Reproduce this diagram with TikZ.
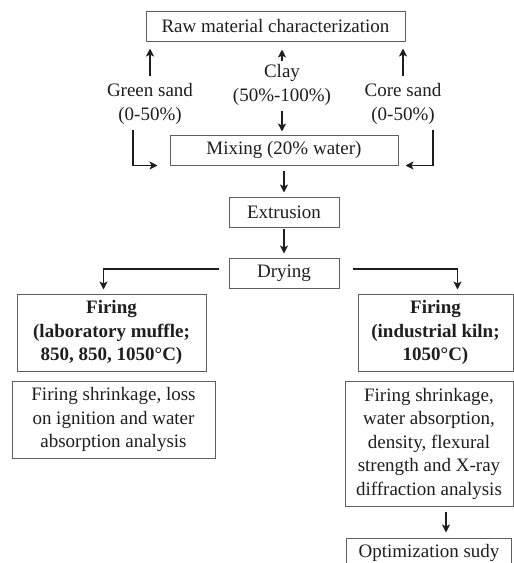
\documentclass[tikz,border=0pt]{standalone}
\usepackage{fontspec}
\setmainfont{Liberation Serif}
\usepackage{tikz}
\usetikzlibrary{arrows.meta,positioning,calc}
\tikzset{
  >=Stealth,
  every node/.append style={font=\fontsize{19}{23.5}\selectfont},
}

\begin{document}
\begin{tikzpicture}[
    x=1pt, y=-1pt,
    node distance=31pt and 12pt,
    stage/.style={
        rectangle,
        draw=framegray,
        line width=1pt,
        minimum height=30pt,
        align=center,
        inner sep=3pt,
        text=inkgray
    },
    feed/.style={
        align=center,
        inner sep=1pt,
        text=inkgray
    },
    arrow/.style={
        -{Stealth[length=8pt,width=8pt,inset=2pt]},
        line width=1.5pt,
        draw=inkgray
    }
]
% Color definitions
\definecolor{inkgray}{RGB}{30,30,30}
\definecolor{framegray}{RGB}{95,95,95}

\useasboundingbox (0,0) rectangle (514,563);

% Raw materials
\node[stage, minimum width=259pt] (raw) at (275.5,26) {Raw material characterization};
\node[feed] (green) at (150,104) {Green sand\\(0-50\%)};
\node[feed] (clay) at (282,85) {Clay\\(50\%-100\%)};
\node[feed] (core) at (403,104) {Core sand\\(0-50\%)};

% Processing stages
\node[stage, minimum width=228pt] (mix) at (284,150) {Mixing (20\% water)};
\node[stage, minimum width=110pt, below=of mix] (ext) {Extrusion};
\node[stage, minimum width=110pt, below=30pt of ext] (dry) {Drying};

% Firing branches
\node[stage, font=\fontsize{19}{23.5}\selectfont\bfseries, minimum width=189pt, minimum height=77pt] (fireL) at (111.5,332.5) {Firing\\(laboratory muffle;\\850, 850, 1050°C)};
\node[stage, font=\fontsize{19}{23.5}\selectfont\bfseries, minimum width=155pt, minimum height=77pt] (fireR) at (435.5,332.5) {Firing\\(industrial kiln;\\1050°C)};
\node[stage, minimum width=203pt, minimum height=77pt, below=9pt of fireL, xshift=2pt] (anaL) {Firing shrinkage, loss\\on ignition and water\\absorption analysis};
\node[stage, minimum width=168pt, minimum height=125pt, below=9pt of fireR, xshift=-6.5pt] (anaR) {Firing shrinkage,\\water absorption,\\density, flexural\\strength and X-ray\\diffraction analysis};
\node[stage, minimum width=165pt, below=31pt of anaR] (opt) {Optimization sudy};

% Flow arrows
\draw[arrow, shorten <=6pt, shorten >=7pt] (green.north) -- (green.north |- raw.south);
\draw[arrow, shorten <=2pt, shorten >=8pt] (clay.north) -- (clay.north |- raw.south);
\draw[arrow, shorten <=6pt, shorten >=7pt] (core.north) -- (core.north |- raw.south);
\draw[arrow, shorten <=4pt, shorten >=3pt] (clay.south) -- (clay.south |- mix.north);
\draw[arrow] ([xshift=-17pt,yshift=-4pt]green.south) |- ([xshift=-12pt]mix.south west);
\draw[arrow] ([xshift=30pt,yshift=-4pt]core.south) |- ([xshift=7pt]mix.south east);
\draw[arrow, shorten <=5pt, shorten >=4pt] (mix) -- (ext);
\draw[arrow, shorten <=1pt, shorten >=4pt] (ext) -- (dry);
\draw[arrow, shorten >=4pt] ([shift={(-10pt,4pt)}]dry.west) -| ([xshift=-8pt]fireL.north);
\draw[arrow, shorten >=4pt] ([shift={(13pt,4pt)}]dry.east) -| ([xshift=22pt]fireR.north);
\draw[arrow, shorten <=5pt, shorten >=5pt] ([xshift=17pt]anaR.south) -- ([xshift=17pt]opt.north);
\end{tikzpicture}
\end{document}
